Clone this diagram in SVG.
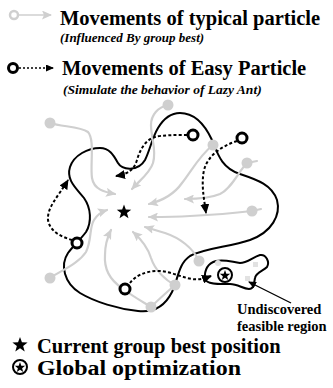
<svg xmlns="http://www.w3.org/2000/svg" width="333" height="388" viewBox="0 0 333 388">
<style>
.t{font-family:"Liberation Serif","Times New Roman",serif;font-weight:bold;fill:#000}
.st{font-family:"Liberation Serif","Times New Roman",serif;font-weight:bold;font-style:italic;fill:#000}
.g{fill:none;stroke:#cfcfcf;stroke-width:2.2;stroke-linecap:round}
.gc{fill:#cfcfcf;stroke:none}
.b{fill:none;stroke:#000;stroke-width:2}
.d{fill:none;stroke:#000;stroke-width:2;stroke-dasharray:3,2.2}
.hc{fill:#fff;stroke:#000;stroke-width:3}
</style>
<defs>
<marker id="ga" markerUnits="userSpaceOnUse" markerWidth="10" markerHeight="9" refX="9" refY="4.5" orient="auto"><path d="M0,0 L10,4.5 L0,9 L2,4.5 Z" fill="#cfcfcf"/></marker>
<marker id="ba" markerUnits="userSpaceOnUse" markerWidth="10" markerHeight="9" refX="9" refY="4.5" orient="auto"><path d="M0,0 L10,4.5 L0,9 Z" fill="#000"/></marker>
<marker id="pa" markerUnits="userSpaceOnUse" markerWidth="8" markerHeight="7" refX="7" refY="3.5" orient="auto"><path d="M0,0 L8,3.5 L0,7 Z" fill="#000"/></marker>
<path id="star" d="M0,-8 L1.94,-2.67 L7.61,-2.47 L3.14,1.02 L4.70,6.47 L0,3.3 L-4.70,6.47 L-3.14,1.02 L-7.61,-2.47 L-1.94,-2.67 Z"/>
</defs>

<g id="legend-typical">
<circle cx="14" cy="15" r="4" fill="#fff" stroke="#cfcfcf" stroke-width="2.5"/>
<line x1="18.5" y1="15" x2="51" y2="15" stroke="#cfcfcf" stroke-width="1.6" marker-end="url(#ga)"/>
<text class="t" x="60" y="25" font-size="20.5">Movements of typical particle</text>
<text class="st" x="60" y="42" font-size="13">(Influenced By group best)</text>
</g>
<g id="legend-easy">
<circle cx="13" cy="68" r="4.5" class="hc"/>
<line x1="19" y1="68" x2="53" y2="68" stroke="#000" stroke-width="1.6" stroke-dasharray="2,2" marker-end="url(#pa)"/>
<text class="t" x="62" y="75" font-size="20.5">Movements of Easy Particle</text>
<text class="st" x="63" y="94" font-size="13.5">(Simulate the behavior of Lazy Ant)</text>
</g>

<g id="search-boundary">
<path class="b" d="M180,113 C195,113 205,125 212,140 C218,155 222,168 240,174 C258,180 272,185 277,200 C281,215 272,232 250,240 C230,247 205,248 190,256 C178,264 178,280 172,292 C166,304 155,313 138,311 C118,309 95,302 80,293 C64,283 60,265 68,253 C74,245 80,240 86,232 C92,222 91,208 84,198 C76,188 66,180 70,167 C74,155 88,148 100,148 C110,148 114,156 118,163 C122,170 138,172 145,160 C150,150 152,138 158,128 C164,118 172,113 180,113 Z"/>
</g>

<g id="undiscovered-region">
<path class="b" d="M205,279 C204,270 208,263 216,261 C224,259 232,262 240,263 C247,263 253,257 260,255 C266,254 270,262 267,267 C263,271 256,272 255,278 C254,283 254,289 249,289 C243,289 238,284 230,284 C221,284 207,285 205,279 Z"/>
<circle cx="218" cy="263" r="3" fill="#e2e2e2"/>
<rect x="253" y="262" width="5" height="5" fill="#e2e2e2"/>
<rect x="245" y="276" width="5" height="5" fill="#e2e2e2"/>
</g>

<g id="connectors">
<path class="g" d="M50,123 C62,127 80,126 88,132 C95,140 90,165 92,178 C94,190 105,192 115,194" marker-end="url(#ga)"/>
<path class="g" d="M168,105 C158,107 151,115 151,125 C151,138 157,150 153,163 C150,173 140,180 132,189" marker-end="url(#ga)"/>
<path class="g" d="M213,145 C200,155 192,170 182,183 C175,193 165,200 149,204" marker-end="url(#ga)"/>
<path class="g" d="M257,161 L247,163 C238,172 232,188 220,194 C208,199 195,199 185,199" marker-end="url(#ga)"/>
<path class="g" d="M261,209 L252,211 C235,213 210,215 190,216 C175,217 160,217 149,217" marker-end="url(#ga)"/>
<path class="g" d="M199,261 C193,248 180,238 165,233 C158,231 152,229 145,227" marker-end="url(#ga)"/>
<path class="g" d="M50,278 C62,270 78,264 86,252 C92,240 89,228 94,220 C97,215 101,212 107,210" marker-end="url(#ga)"/>
<path class="g" d="M151,307 C143,302 132,296 122,288 C110,280 104,268 105,255 C105,245 107,238 111,230" marker-end="url(#ga)"/>
<path class="g" d="M175,285 C165,280 155,270 151,258 C148,248 142,240 133,232" marker-end="url(#ga)"/>
<path class="g" d="M151,307 C158,300 167,292 175,285"/>
<path class="d" d="M187,135 C175,135 162,135 155,137 C145,140 140,150 137,160 C134,170 128,174 116,176" marker-end="url(#ba)"/>
<path class="d" d="M237,141 C222,146 208,155 204,170 C201,185 204,198 206,213" marker-end="url(#ba)"/>
<path class="d" d="M72,240 C62,237 50,232 48,220 C47,207 58,197 68,180" marker-end="url(#ba)"/>
<path class="d" d="M130,283 C135,276 145,271 158,271 C170,271 180,277 192,279 C198,280 203,279 211,276" marker-end="url(#ba)"/>
<line x1="291" y1="303" x2="249" y2="282" stroke="#000" stroke-width="1.3" marker-end="url(#pa)"/>
</g>

<g id="typical-particles">
<circle class="gc" cx="50" cy="123" r="5.5"/>
<circle class="gc" cx="168" cy="105" r="5.5"/>
<circle class="gc" cx="213" cy="145" r="5.5"/>
<circle class="gc" cx="247" cy="163" r="5.5"/>
<circle class="gc" cx="252" cy="211" r="5.5"/>
<circle class="gc" cx="199" cy="261" r="5.5"/>
<circle class="gc" cx="50" cy="278" r="5.5"/>
<circle class="gc" cx="151" cy="307" r="5.5"/>
<circle class="gc" cx="175" cy="285" r="5.5"/>
</g>

<g id="easy-particles">
<circle class="hc" cx="193" cy="135" r="5"/>
<circle class="hc" cx="242" cy="138" r="5"/>
<circle class="hc" cx="77" cy="243" r="5"/>
<circle class="hc" cx="125" cy="289" r="5"/>
</g>

<g id="group-best">
<use href="#star" transform="translate(124,212) scale(0.95)"/>
</g>

<g id="global-optimum">
<circle cx="225" cy="275" r="7" fill="#fff" stroke="#000" stroke-width="2"/>
<use href="#star" transform="translate(225,275.5) scale(0.68)"/>
</g>

<g id="label-undiscovered">
<text class="t" x="237" y="314" font-size="14.5">Undiscovered</text>
<text class="t" x="237" y="331" font-size="14.5">feasible region</text>
</g>

<g id="legend-best">
<use href="#star" transform="translate(20,345) scale(1)"/>
<text class="t" x="37" y="353" font-size="20.5">Current group best position</text>
</g>
<g id="legend-global">
<circle cx="20" cy="367" r="7" fill="#fff" stroke="#000" stroke-width="2"/>
<use href="#star" transform="translate(20,367.5) scale(0.68)"/>
<text class="t" x="37" y="375" font-size="20.5" textLength="204" lengthAdjust="spacingAndGlyphs">Global optimization</text>
</g>
</svg>
